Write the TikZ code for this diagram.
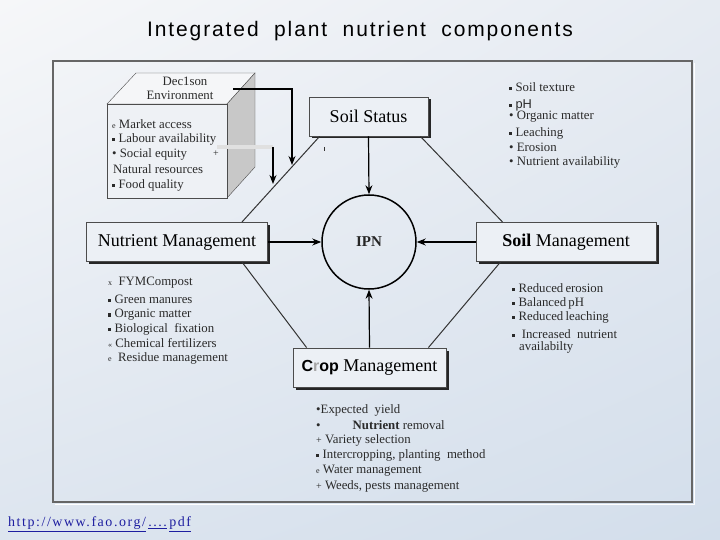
\documentclass[tikz,border=0pt]{standalone}
\usepackage{fontspec}
\setmainfont{Liberation Serif}
\newfontfamily\sansf{Liberation Sans}
\newfontfamily\titlef[LetterSpace=9]{Liberation Sans}
\newfontfamily\urlf[LetterSpace=11]{Liberation Serif}
\usetikzlibrary{arrows.meta,shadows,shadings}
\definecolor{bgUL}{HTML}{F6F7F9}
\definecolor{bgUR}{HTML}{E6EBF2}
\definecolor{bgLL}{HTML}{DDE5EF}
\definecolor{bgLR}{HTML}{D3DEEB}
\definecolor{boxfill}{HTML}{ECF0F5}
\definecolor{faceF}{HTML}{EEF1F5}
\definecolor{faceT}{HTML}{F5F6F8}
\definecolor{faceS}{HTML}{C8C8C8}
\definecolor{txt}{HTML}{2A2A2A}
\definecolor{urlblue}{HTML}{1E1EA0}
\newcommand{\fsz}[1]{\fontsize{#1}{#1}\selectfont}
\newcommand{\sqb}{\rule[.2ex]{3.2pt}{3.2pt}}
\newcommand{\rdb}{\textbullet}
\newcommand{\eb}{{\fsz{8}e}}
\newcommand{\xb}{{\fsz{8}x}}
\newcommand{\qb}{{\fsz{8}«}}
\newcommand{\pb}{{\fsz{10}+}}
\begin{document}
\begin{tikzpicture}[x=1pt,y=-1pt,
	box/.style={draw=black!70,fill=boxfill,line width=.8pt,minimum height=39pt,
		inner sep=0pt,font=\fsz{18},
		drop shadow={shadow xshift=2.5pt,shadow yshift=-2.5pt,fill=black!85,opacity=1}},
	item/.style={anchor=west,inner sep=0pt,text=txt,font=\fsz{12.8}},
	link/.style={draw=black!80,line width=1pt},
	arr/.style={-{Stealth[length=9pt,width=7pt]},line width=1.2pt},
	]
	\useasboundingbox (0,0) rectangle (720,540);
	\shade[upper left=bgUL,upper right=bgUR,lower left=bgLL,lower right=bgLR]
	(0,0) rectangle (720,540);
	\draw[white,line width=1pt] (55,504) -- (694,504) -- (694,63);
	\draw[black!60,line width=1.4pt] (53,61) rectangle (692,502);
	\node (title) at (360,31) {\titlef\fsz{21}Integrated\ \ plant\ \ nutrient\ \ components};
	% <<< decision box
	\filldraw[fill=faceT,draw=black!70] (107,104) -- (136,73) -- (255,73) -- (227,104) -- cycle;
	\filldraw[fill=faceS,draw=black!70] (227,104) -- (255,73) -- (255,167) -- (227,198) -- cycle;
	\filldraw[fill=faceF,draw=black!70] (107,104) rectangle (227,198);
	\path[every node/.style={inner sep=0pt,text=txt,font=\fsz{12.8}}]
	(185,81) node (D1) {Dec1son}
	++(-5,14) node (D2) {Environment};
	\path
	(112,124) node[item] (E1) {\eb\ Market access}
	++(0,15) node[item] (E2) {\sqb\ Labour availability}
	++(0,15) node[item] (E3) {\rdb\ Social\ equity}
	++(1,15) node[item] (E4) {Natural resources}
	++(-1,16) node[item] (E5) {\sqb\ Food quality};
	\node[item] (E6) at (213,154) {\pb};
	% <<< arrows out of the box
	\coordinate (d1) at (233,89);
	\coordinate (t1) at (292,165);
	\coordinate (d2) at (217,147);
	\coordinate (k2) at (273,147);
	\coordinate (t2) at (273,184);
	\draw[arr] (d1) -| (t1);
	\draw[black!12,line width=4.5pt] (d2) -- (k2);
	\draw[arr] (k2) -- (t2);
	\draw[black!80,line width=.6pt] (324,147) -- (324,151);
	% <<< boxes
	\node[box,minimum width=119pt] (status) at (368.5,116.5) {Soil Status};
	\node[box,minimum width=181pt] (nutr) at (177,242) {Nutrient Management};
	\node[box,minimum width=180pt] (soilm) at (566,242) {\textbf{Soil} Management};
	\node[box,minimum width=153pt] (crop) at (369.5,367.5)
	{{\sansf\bfseries\fsz{16}C\textcolor{black!35}{r}op}\ Management};
	\node[circle,draw,line width=1.5pt,minimum size=94pt,inner sep=0pt,
	font=\fsz{15}\bfseries,text=black!85] (ipn) at (369,242) {IPN};
	\draw[arr] (status.south) -- (ipn.north);
	\draw[arr] (crop.north) -- (ipn.south);
	\draw[arr] (nutr.east) -- (ipn.west);
	\draw[arr] (soilm.west) -- (ipn.east);
	\draw[link] ([xshift=11pt]status.south west) -- ([xshift=-26pt]nutr.north east);
	\draw[link] ([xshift=-8pt]status.south east) -- ([xshift=27pt]soilm.north west);
	\draw[link] ([xshift=-26pt]nutr.south east) -- ([xshift=14pt]crop.north west);
	\draw[link] ([xshift=25pt]soilm.south west) -- ([xshift=-18pt]crop.north east);
	% <<< soil status list
	\path
	(509,87) node[item] (S1) {\sqb\ Soil texture}
	++(0,18) node[item] (S2) {\sqb\ {\sansf pH}}
	++(0,12) node[item] (S3) {\rdb\ Organic matter}
	++(0,16) node[item] (S4) {\sqb\ Leaching}
	++(0,14) node[item] (S5) {\rdb\ Erosion}
	++(0,15) node[item] (S6) {\rdb\ Nutrient availability};
	% <<< nutrient list
	\path
	(108,283) node[item] (N1) {\xb\ \ FYMCompost}
	++(0,16) node[item] (N2) {\sqb\ Green manures}
	++(0,16) node[item] (N3) {\sqb\ Organic matter}
	++(0,14) node[item] (N4) {\sqb\ Biological\ \ fixation}
	++(0,14) node[item] (N5) {\qb\ Chemical fertilizers}
	++(0,15) node[item] (N6) {\eb\ \ Residue management};
	% <<< soil management list
	\path[every node/.append style={font=\sansf\fsz{12}}]
	(512,288) node[item] (M1) {\sqb\ Reduced\,erosion}
	++(0,15) node[item] (M2) {\sqb\ Balanced\,pH}
	++(0,14) node[item] (M3) {\sqb\ Reduced\,leaching};
	\path
	(512,334) node[item] (M4) {\sqb\ \ Increased\ \ nutrient}
	++(7,13) node[item] (M5) {availabilty};
	% <<< crop list
	\path
	(316,410) node[item] (C1) {\rdb Expected\ \ yield}
	++(0,15) node[item] (C2) {\rdb\hspace{32pt}\textbf{Nutrient} removal}
	++(0,15) node[item] (C3) {\pb\ Variety selection}
	++(0,15) node[item] (C4) {\sqb\ Intercropping, planting\ \ method}
	++(0,16) node[item] (C5) {\eb\ Water management}
	++(0,15) node[item] (C6) {\pb\ Weeds, pests management};
	\node[anchor=west,inner sep=0pt,text=urlblue,font=\urlf\fsz{14}] (url) at (8,524)
	{\underline{http://www.fao.org/}\,\underline{....}\,\underline{pdf}};
\end{tikzpicture}
\end{document}
